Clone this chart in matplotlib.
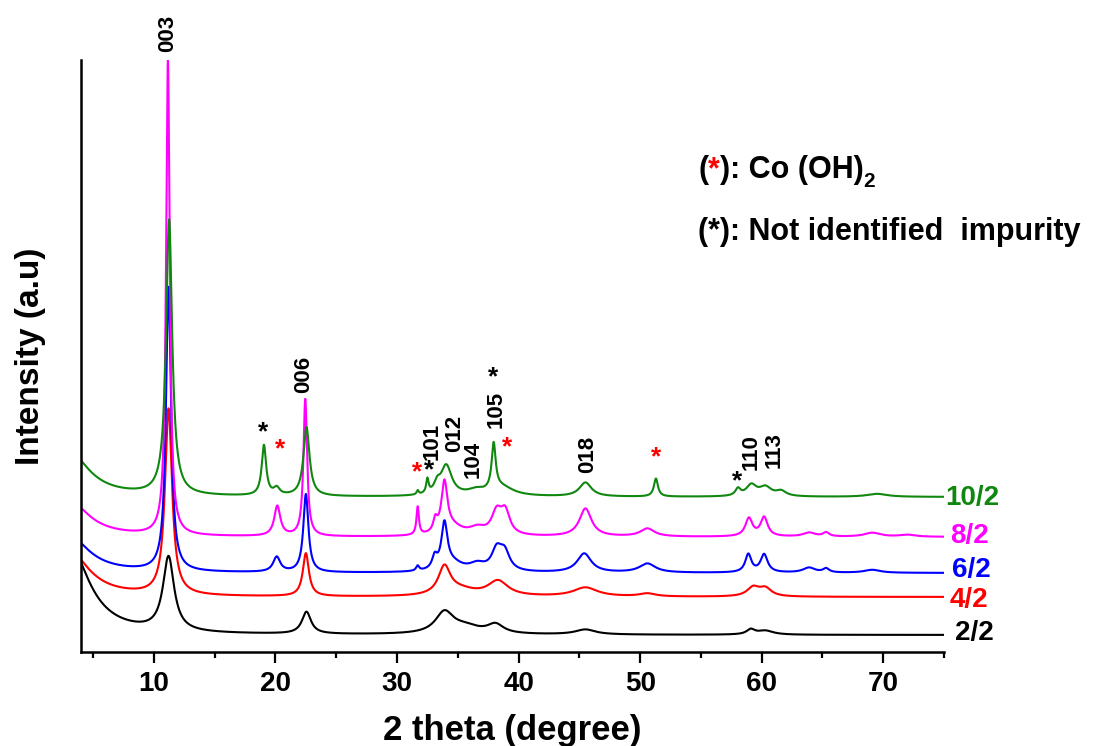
import numpy as np
import matplotlib
matplotlib.use("Agg")
import matplotlib.pyplot as plt

plt.rcParams['font.family'] = ['Liberation Sans', 'DejaVu Sans']
plt.rcParams['font.weight'] = 'bold'

# sample names, colours and baseline offsets (intensity, a.u.)
samples = ['2/2', '4/2', '6/2', '8/2', '10/2']
colors = ['black', '#ff0000', '#0000ff', '#ff00ff', '#108810']
offsets = [17, 55, 79, 115, 155]

# peaks: position (deg), height (a.u.), half width (deg)
pos_2_2 = [3.0, 11.2, 22.55, 33.9, 35.6, 38.1, 45.5, 59.1, 60.3]
amp_2_2 = [90, 74, 22, 21, 7, 9, 5, 5, 4]
hw_2_2 = [2.0, 0.55, 0.45, 0.9, 1.5, 0.8, 1.0, 0.4, 0.8]

pos_4_2 = [3.0, 11.2, 22.5, 33.9, 35.2, 38.3, 45.5, 50.6, 59.3, 60.3]
amp_4_2 = [46, 186, 43, 28, 6, 15, 9, 3, 9, 8]
hw_4_2 = [2.0, 0.35, 0.3, 0.6, 1.5, 1.0, 1.2, 0.8, 0.6, 0.6]

pos_6_2 = [3.0, 11.2, 20.1, 22.5, 31.7, 33.1, 33.9, 34.6, 36.6, 38.2, 38.85,
           45.4, 50.6, 58.9, 60.2, 63.9, 65.3, 69.1]
amp_6_2 = [37, 284, 15, 78, 5, 12, 45, 8, 7, 20, 18, 19, 9, 18, 18, 5, 4, 3]
hw_6_2 = [2.0, 0.25, 0.35, 0.25, 0.15, 0.25, 0.3, 1.0, 0.8, 0.5, 0.5,
          0.7, 0.8, 0.3, 0.35, 0.6, 0.3, 0.8]

pos_8_2 = [3.0, 11.15, 20.15, 22.45, 31.7, 33.15, 33.9, 34.6, 36.6, 38.2, 38.9,
           45.5, 50.6, 58.95, 60.2, 63.9, 65.3, 69.1, 72.0]
amp_8_2 = [36, 475, 30, 137, 28, 12, 50, 8, 7, 22, 22, 28, 8, 18, 19, 4, 4, 4, 2]
hw_8_2 = [2.0, 0.18, 0.3, 0.18, 0.12, 0.2, 0.3, 1.0, 0.8, 0.5, 0.45,
          0.6, 0.7, 0.35, 0.35, 0.6, 0.3, 0.8, 0.8]

pos_10_2 = [3.0, 11.25, 19.05, 20.1, 22.55, 31.7, 32.5, 33.3, 34.05, 36.5,
            37.95, 38.6, 45.5, 51.3, 58.05, 59.15, 60.3, 61.6, 69.5]
amp_10_2 = [45, 275, 50, 7, 69, 4, 14, 9, 30, 5, 46, 9, 14, 18, 7, 11, 9, 5, 3]
hw_10_2 = [2.0, 0.3, 0.22, 0.3, 0.3, 0.1, 0.12, 0.3, 0.55, 0.8,
           0.2, 1.2, 0.6, 0.2, 0.25, 0.5, 0.6, 0.5, 1.0]

peaks = [(pos_2_2, amp_2_2, hw_2_2), (pos_4_2, amp_4_2, hw_4_2),
         (pos_6_2, amp_6_2, hw_6_2), (pos_8_2, amp_8_2, hw_8_2),
         (pos_10_2, amp_10_2, hw_10_2)]

# reflection labels: text, position (deg), bottom of label (a.u.)
hkl_labels = ['003', '006', '101', '012', '104', '105', '018', '110', '113']
hkl_pos = [11.1, 22.3, 32.85, 34.7, 36.3, 38.15, 45.7, 59.1, 61.05]
hkl_y = [600, 259, 192, 200, 174, 224, 179, 182, 184]

# impurity marks: position (deg), centre height (a.u.), colour
star_pos = [19.0, 20.35, 31.65, 32.65, 37.9, 39.05, 51.35, 58.0]
star_y = [220, 203, 180, 182, 275, 205, 195, 171]
star_col = ['black', 'red', 'red', 'black', 'black', 'red', 'red', 'black']

two_theta = np.linspace(4, 75, 7101)

fig = plt.figure(figsize=(10.96, 7.46), dpi=100)
ax = fig.add_axes([81 / 1096, 1 - 652 / 746, (944 - 81) / 1096, (652 - 60) / 746])

for (p, a, w), off, col in zip(peaks, offsets, colors):
    y = np.full_like(two_theta, off, dtype=float)
    for c, h, hw in zip(p, a, w):
        y += h / (1 + ((two_theta - c) / hw) ** 2)
    ax.plot(two_theta, y, color=col, lw=1.5)

for lab, x, yb in zip(hkl_labels, hkl_pos, hkl_y):
    ax.text(x, yb, lab, rotation=90, ha='center', va='bottom', fontsize=16,
            fontweight='bold', clip_on=False)

for x, yc, col in zip(star_pos, star_y, star_col):
    ax.text(x, yc, '*', ha='center', va='center', fontsize=19,
            fontweight='bold', color=col, clip_on=False)

ax.set_xlim(4, 75)
ax.set_ylim(0, 592)
ax.set_xticks(range(10, 80, 10))
ax.set_xticks(range(5, 80, 10), minor=True)
ax.set_yticks([])
for side in ['top', 'right']:
    ax.spines[side].set_visible(False)
for side in ['left', 'bottom']:
    ax.spines[side].set_linewidth(1.8)
ax.tick_params(axis='x', which='major', length=8, width=1.6, labelsize=20, pad=6)
ax.tick_params(axis='x', which='minor', length=4.5, width=1.6)
for t in ax.get_xticklabels():
    t.set_fontweight('bold')
ax.set_xlabel('2 theta (degree)', fontsize=25, fontweight='bold', labelpad=12)
ax.set_ylabel('Intensity (a.u)', fontsize=24, fontweight='bold', labelpad=25)

# sample names at the right end of each pattern
name_x = [955, 950, 952, 950, 945]
name_y = [640, 607, 577, 543, 505]
for s, col, px, py in zip(samples, colors, name_x, name_y):
    fig.text(px / 1096, 1 - py / 746, s, color=col, fontsize=20,
             fontweight='bold', va='baseline', ha='left')

# key for the impurity marks
fs = 22
t1 = fig.text(698 / 1096, 1 - 178 / 746, '(', fontsize=fs, fontweight='bold',
              va='baseline')
t2 = ax.annotate('*', xy=(1, 0), xycoords=t1, va='bottom', ha='left',
                 fontsize=fs, fontweight='bold', color='red')
t3 = ax.annotate('): Co (OH)', xy=(1, 0), xycoords=t2, va='bottom', ha='left',
                 fontsize=fs, fontweight='bold')
ax.annotate('2', xy=(1, 0), xycoords=t3, va='bottom', ha='left',
            xytext=(0, -4), textcoords='offset points',
            fontsize=15, fontweight='bold')
fig.text(698 / 1096, 1 - 240 / 746, '(*): Not identified  impurity',
         fontsize=fs, fontweight='bold', va='baseline')

fig.savefig('out.png', dpi=100)
